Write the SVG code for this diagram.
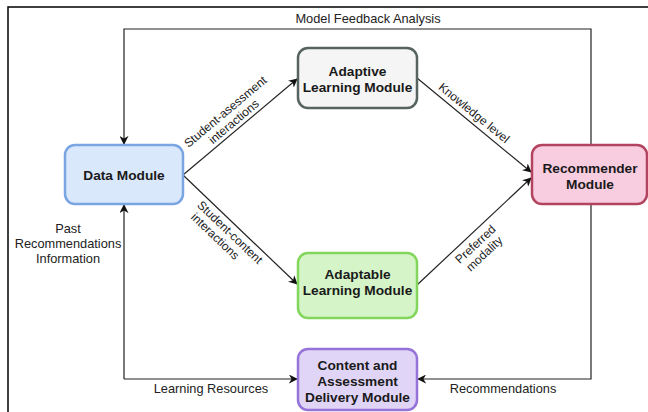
<svg xmlns="http://www.w3.org/2000/svg" width="648" height="412" viewBox="0 0 648 412">
<style>
.node{stroke-width:2.5}
.nt{font-family:"Liberation Sans",Arial,sans-serif;font-size:13.7px;font-weight:bold;fill:#1a1a1a;text-anchor:middle}
.lb{font-family:"Liberation Sans",Arial,sans-serif;font-size:12.8px;fill:#222;text-anchor:middle}
.rl{font-family:"Liberation Sans",Arial,sans-serif;font-size:12px;fill:#222;text-anchor:middle}
.ln{fill:none;stroke:#222;stroke-width:1.2}
</style>
<defs>
<marker id="ah" viewBox="0 0 10 10" refX="9" refY="5" markerWidth="9" markerHeight="9" markerUnits="userSpaceOnUse" orient="auto">
<path d="M0,0 L10,5 L0,10 L3,5 Z" fill="#111"/>
</marker>
</defs>
<rect width="648" height="412" fill="#fff"/>
<path d="M8,412 V7 H648" fill="none" stroke="#000" stroke-width="1.5"/>

<g id="connectors">
<path class="ln" d="M591,145 V29 H124 V144" marker-end="url(#ah)"/>
<path class="ln" d="M183,175 L297,79" marker-end="url(#ah)"/>
<path class="ln" d="M183,175 L297,284" marker-end="url(#ah)"/>
<path class="ln" d="M417,78 L531,172" marker-end="url(#ah)"/>
<path class="ln" d="M417,285 L531,178" marker-end="url(#ah)"/>
<path class="ln" d="M124,379 V205" marker-end="url(#ah)"/>
<path class="ln" d="M124,379 H297" marker-end="url(#ah)"/>
<path class="ln" d="M591,204 V379 H418" marker-end="url(#ah)"/>
<text class="lb" x="368" y="23">Model Feedback Analysis</text>
<text class="lb" x="68" y="233">Past</text>
<text class="lb" x="68" y="248">Recommendations</text>
<text class="lb" x="68" y="263">Information</text>
<text class="lb" x="211" y="393">Learning Resources</text>
<text class="lb" x="503" y="393">Recommendations</text>
<g transform="translate(240.5,126.5) rotate(-40.1)">
<text class="rl" x="-2" y="-17">Student-asessment</text>
<text class="rl" x="-2" y="-4">interactions</text>
</g>
<g transform="translate(240.5,230) rotate(43.7)">
<text class="rl" x="-6" y="13">Student-content</text>
<text class="rl" x="-14" y="26">interactions</text>
</g>
<g transform="translate(474.5,125) rotate(39.3)">
<text class="rl" x="-8" y="-5">Knowledge level</text>
</g>
<g transform="translate(474.5,231.5) rotate(-42.9)">
<text class="rl" x="-8" y="14">Preferred</text>
<text class="rl" x="-8" y="27">modality</text>
</g>
</g>

<g id="data-module">
<rect class="node" x="65" y="145" width="118" height="59" rx="10" fill="#dae8fc" stroke="#7aa5e3"/>
<text class="nt" x="124" y="180">Data Module</text>
</g>
<g id="adaptive-learning-module">
<rect class="node" x="298" y="48" width="119" height="60" rx="10" fill="#f5f5f5" stroke="#56635f"/>
<text class="nt" x="357.5" y="76">Adaptive</text>
<text class="nt" x="357.5" y="92">Learning Module</text>
</g>
<g id="recommender-module">
<rect class="node" x="532" y="145" width="115" height="59" rx="10" fill="#f9cde0" stroke="#b3445f"/>
<text class="nt" x="590" y="173">Recommender</text>
<text class="nt" x="590" y="189">Module</text>
</g>
<g id="adaptable-learning-module">
<rect class="node" x="298" y="253" width="119" height="65" rx="10" fill="#d5f5c8" stroke="#82d65c"/>
<text class="nt" x="357.5" y="279">Adaptable</text>
<text class="nt" x="357.5" y="295">Learning Module</text>
</g>
<g id="content-delivery-module">
<rect class="node" x="298" y="349" width="119" height="61" rx="10" fill="#e1d5f7" stroke="#9673d8"/>
<text class="nt" x="357.5" y="370">Content and</text>
<text class="nt" x="357.5" y="386">Assessment</text>
<text class="nt" x="357.5" y="402">Delivery Module</text>
</g>
</svg>
